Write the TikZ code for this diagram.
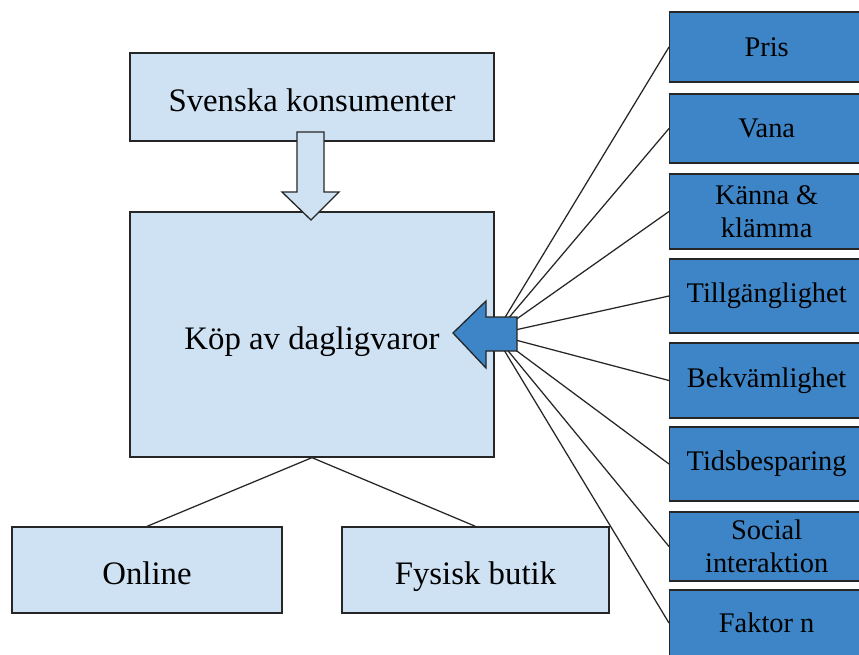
\documentclass[tikz,border=0pt]{standalone}
\usepackage{fontspec}
\setmainfont{Liberation Serif}
\definecolor{lightb}{HTML}{CFE2F3}
\definecolor{darkb}{HTML}{3D85C6}
\begin{document}
\begin{tikzpicture}[x=1pt,y=-1pt,
 box/.style={draw=black!85, line width=1.3pt, inner sep=0pt, align=center},
 lbox/.style={box, fill=lightb, font=\fontsize{32.8}{38}\selectfont, text height=31pt, text depth=2pt},
 dbox/.style={box, fill=darkb, font=\fontsize{28.4}{32.5}\selectfont, anchor=west, minimum width=194pt},
 conn/.style={draw=black!85, line width=1.25pt},
 arr/.style={draw=black!85, line width=1.3pt, line join=miter}]
\clip (0,0) rectangle (859,655);
\fill[white] (0,0) rectangle (859,655);
\node[lbox, minimum width=364pt, minimum height=88pt] (top) at (312,97) {Svenska konsumenter};
\node[lbox, minimum width=364pt, minimum height=245pt] (main) at (312,334.5) {Köp av dagligvaror};
\node[lbox, minimum width=270pt, minimum height=86pt] (online) at (147,570) {Online};
\node[lbox, minimum width=267pt, minimum height=86pt] (fysisk) at (475.5,570) {Fysisk butik};
\node[dbox, minimum height=70pt] (pris) at (669,47) {Pris};
\node[dbox, minimum height=69pt] (vana) at (669,128.5) {Vana};
\node[dbox, minimum height=75pt] (kanna) at (669,211.5) {Känna \&\\klämma};
\node[dbox, minimum height=74pt] (till) at (669,296) {Tillgänglighet};
\node[dbox, minimum height=75pt] (bekv) at (669,380.5) {Bekvämlighet};
\node[dbox, minimum height=74pt] (tids) at (669,464) {Tidsbesparing};
\node[dbox, minimum height=69pt] (social) at (669,546.5) {Social\\interaktion};
\node[dbox, minimum height=66pt] (faktor) at (669,623) {Faktor n};
\foreach \n in {pris,vana,kanna,till,bekv,tids,social,faktor}
  \draw[conn] (main.east) -- (\n.west);
\draw[conn] (main.south) -- (online.north);
\draw[conn] (main.south) -- (fysisk.north);
\draw[arr, fill=lightb] (297,132) -- (324,132) -- (324,192) -- (339,192) -- (311,220) -- (282,192) -- (297,192) -- cycle;
\draw[arr, fill=darkb] (517,317) -- (517,351) -- (486,351) -- (486,368) -- (453,333) -- (486,301) -- (486,317) -- cycle;
\end{tikzpicture}
\end{document}
